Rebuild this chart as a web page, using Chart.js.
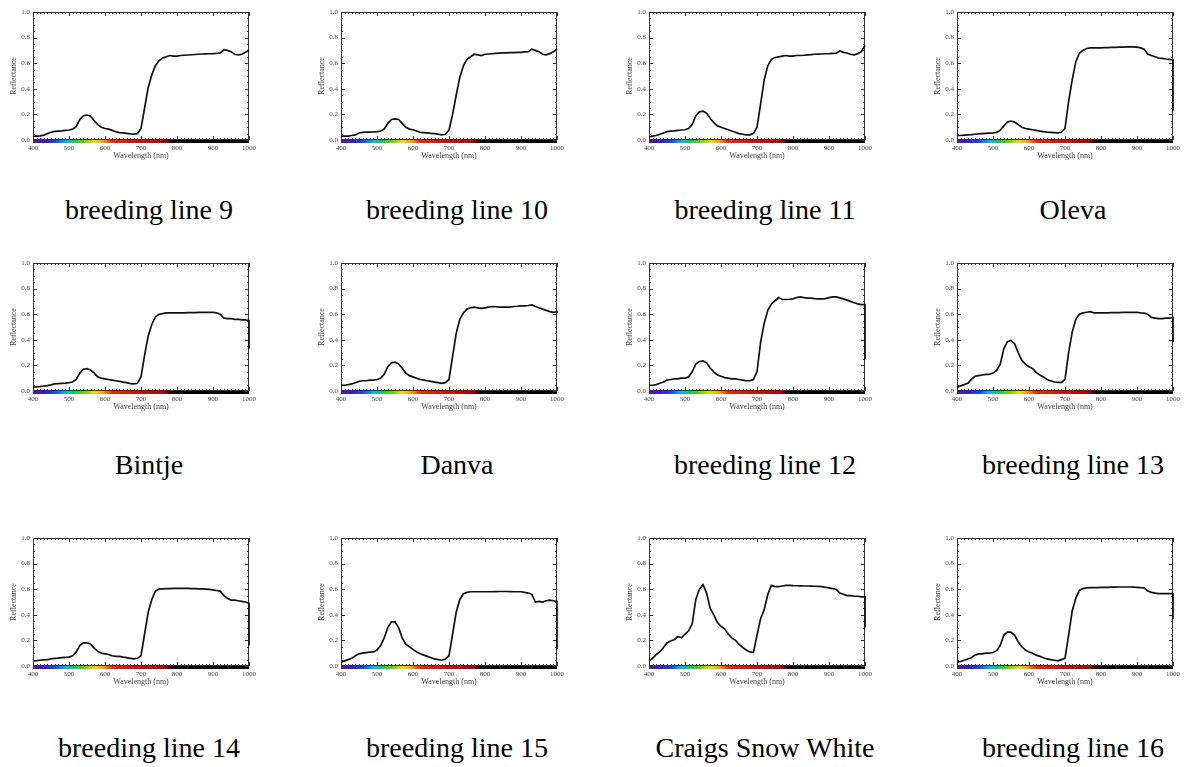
<!DOCTYPE html>
<html>
<head>
<meta charset="utf-8">
<title>Reflectance spectra</title>
<script src="https://cdn.jsdelivr.net/npm/chart.js@4.4.1/dist/chart.umd.min.js"></script>
<style>
    body { margin: 0; background: #fff; width: 1184px; height: 767px; position: relative; overflow: hidden; }
    canvas { position: absolute; }
    .name {
        position: absolute; width: 300px; text-align: center;
        font-family: "Liberation Serif", "Times New Roman", serif;
        font-size: 28px; line-height: 28px; color: #000; white-space: nowrap;
    }
</style>
</head>
<body>
<script>
// wavelength grid (nm); last point repeats 1000 for the drop at the edge
var wavelengths = [];
for (var w = 400; w <= 1000; w += 10) wavelengths.push(w);
wavelengths.push(1000);

var bl9 = [.030,.030,.032,.038,.050,.060,.068,.070,.072,.075,
           .078,.085,.105,.160,.190,.195,.185,.150,.120,.100,
           .090,.085,.075,.065,.058,.055,.052,.048,.046,.050,
           .090,.250,.410,.510,.580,.620,.640,.650,.660,.655,
           .655,.660,.662,.664,.666,.668,.670,.672,.673,.674,
           .675,.677,.680,.705,.700,.690,.670,.665,.670,.685,
           .700,.700];
var bl10 = [.030,.030,.030,.035,.040,.055,.060,.061,.062,.063,
            .065,.070,.085,.130,.160,.165,.160,.130,.100,.085,
            .080,.070,.060,.058,.055,.052,.050,.045,.040,.045,
            .077,.200,.350,.490,.580,.630,.650,.670,.665,.660,
            .670,.672,.674,.676,.678,.680,.681,.682,.683,.684,
            .685,.688,.690,.710,.700,.690,.670,.665,.675,.690,
            .710,.710];
var bl11 = [.025,.030,.035,.045,.055,.065,.070,.072,.075,.078,
            .080,.090,.120,.190,.220,.225,.210,.170,.135,.110,
            .100,.090,.080,.070,.060,.050,.045,.040,.040,.050,
            .100,.280,.470,.580,.630,.645,.650,.655,.660,.655,
            .655,.660,.660,.662,.665,.667,.670,.671,.672,.674,
            .675,.677,.678,.695,.685,.680,.670,.665,.675,.690,
            .740,.740];
var oleva = [.035,.035,.038,.040,.042,.045,.048,.050,.052,.054,
             .055,.060,.075,.110,.140,.148,.140,.120,.100,.090,
             .085,.080,.075,.070,.065,.062,.060,.058,.055,.060,
             .090,.300,.470,.610,.680,.700,.715,.720,.720,.720,
             .720,.721,.722,.723,.724,.725,.726,.727,.728,.728,
             .725,.720,.710,.670,.660,.650,.640,.637,.633,.630,
             .625,.230];
var bintje = [.030,.032,.035,.038,.042,.048,.055,.058,.060,.062,
              .065,.070,.090,.140,.170,.175,.165,.140,.110,.100,
              .095,.090,.085,.080,.075,.070,.065,.058,.055,.060,
              .110,.280,.430,.520,.580,.600,.605,.610,.610,.610,
              .610,.610,.611,.612,.612,.613,.614,.614,.615,.615,
              .615,.610,.600,.570,.565,.565,.560,.560,.555,.555,
              .550,.330];
var danva = [.045,.045,.050,.055,.065,.075,.080,.080,.085,.085,
             .090,.100,.130,.190,.220,.225,.210,.180,.140,.120,
             .110,.100,.090,.085,.080,.075,.070,.065,.060,.065,
             .090,.270,.450,.560,.610,.640,.650,.655,.650,.645,
             .650,.655,.660,.658,.655,.655,.655,.655,.660,.662,
             .665,.665,.668,.672,.660,.650,.640,.630,.620,.615,
             .620,.610];
var bl12 = [.045,.045,.050,.060,.070,.085,.090,.095,.095,.100,
            .100,.110,.150,.210,.230,.235,.220,.180,.150,.125,
            .115,.105,.100,.095,.095,.090,.085,.080,.080,.090,
            .150,.380,.530,.630,.680,.705,.730,.715,.715,.717,
            .720,.730,.735,.730,.725,.725,.722,.720,.720,.722,
            .730,.735,.735,.728,.720,.710,.700,.690,.680,.675,
            .675,.250];
var bl13 = [.030,.040,.050,.060,.090,.115,.120,.125,.130,.130,
            .140,.160,.210,.330,.385,.395,.370,.300,.240,.210,
            .190,.175,.145,.125,.110,.090,.080,.070,.067,.068,
            .090,.300,.460,.560,.600,.610,.615,.620,.610,.610,
            .610,.610,.611,.612,.612,.613,.614,.614,.615,.615,
            .615,.610,.608,.600,.575,.570,.565,.565,.570,.570,
            .575,.380];
var bl14 = [.040,.042,.045,.048,.050,.055,.060,.062,.065,.068,
            .070,.080,.110,.160,.180,.180,.170,.140,.115,.100,
            .095,.090,.080,.075,.075,.070,.065,.060,.055,.060,
            .080,.250,.420,.520,.585,.600,.603,.605,.605,.606,
            .607,.607,.606,.606,.605,.605,.603,.602,.600,.598,
            .595,.590,.585,.550,.530,.515,.515,.510,.505,.500,
            .490,.160];
var bl15 = [.030,.040,.050,.060,.080,.095,.100,.105,.108,.110,
            .125,.160,.220,.300,.345,.345,.300,.220,.170,.150,
            .130,.110,.095,.085,.075,.065,.055,.050,.045,.055,
            .080,.250,.420,.520,.565,.575,.580,.580,.580,.580,
            .580,.580,.580,.581,.582,.582,.582,.581,.580,.580,
            .580,.575,.570,.560,.500,.505,.500,.510,.515,.510,
            .505,.130];
var craigs = [.040,.060,.090,.110,.145,.180,.195,.205,.230,.220,
              .250,.275,.330,.520,.600,.635,.570,.450,.400,.340,
              .310,.290,.250,.220,.200,.170,.145,.125,.110,.105,
              .240,.370,.440,.560,.630,.620,.620,.625,.630,.630,
              .628,.627,.626,.625,.625,.624,.623,.622,.620,.615,
              .610,.605,.600,.570,.560,.550,.550,.545,.545,.540,
              .540,.300];
var bl16 = [.030,.035,.045,.055,.065,.085,.095,.095,.100,.100,
            .105,.120,.160,.240,.265,.265,.240,.190,.150,.125,
            .110,.100,.085,.075,.065,.055,.050,.045,.040,.050,
            .060,.240,.430,.530,.590,.605,.610,.612,.612,.613,
            .614,.615,.615,.616,.616,.617,.617,.617,.617,.616,
            .615,.612,.610,.585,.575,.570,.565,.565,.565,.565,
            .565,.370];

var panelNames = ["breeding line 9", "breeding line 10", "breeding line 11", "Oleva",
                  "Bintje", "Danva", "breeding line 12", "breeding line 13",
                  "breeding line 14", "breeding line 15", "Craigs Snow White", "breeding line 16"];
var panelSeries = [bl9, bl10, bl11, oleva, bintje, danva, bl12, bl13, bl14, bl15, craigs, bl16];

// colour strip under the x axis
var spectrumStops = [[400, "#6a0cb0"], [430, "#3a16d8"], [460, "#1840ff"], [490, "#00b8ff"],
                     [510, "#00d070"], [540, "#60d000"], [570, "#e8e000"], [595, "#ffa000"],
                     [620, "#ff2000"], [700, "#e00000"], [765, "#b00000"], [790, "#000000"],
                     [1000, "#000000"]];

var serif = "'Liberation Serif', 'Times New Roman', serif";
var colLeft = [0, 308, 616, 924];
var rowTop = [0, 251, 526];
var labelY = [210, 465, 748];

//Frame, ticks and colour strip go under the spectrum line
var frameAndBar = {
    id: "frameAndBar",
    beforeDatasetsDraw: function(chart)
    {
        var ctx = chart.ctx, a = chart.chartArea;
        var xs = chart.scales.x, ys = chart.scales.y;
        ctx.save();

        // spectrum strip
        var x0 = xs.getPixelForValue(400), x1 = xs.getPixelForValue(1000);
        var grad = ctx.createLinearGradient(x0, 0, x1, 0);
        spectrumStops.forEach(function(s){
            grad.addColorStop((s[0] - 400) / 600, s[1]);
        });
        ctx.fillStyle = grad;
        ctx.fillRect(x0, a.bottom - 1, x1 - x0, 4);

        // box
        ctx.strokeStyle = "#333";
        ctx.lineWidth = 1;
        ctx.strokeRect(a.left + 0.5, a.top + 0.5, a.right - a.left - 1, a.bottom - a.top - 1);

        // inward tick marks
        ctx.beginPath();
        for (var w = 400; w <= 1000; w += 10) {
            var px = Math.round(xs.getPixelForValue(w)) + 0.5;
            var len = (w % 100 == 0) ? 4 : 2;
            ctx.moveTo(px, a.top); ctx.lineTo(px, a.top + len);
            ctx.moveTo(px, a.bottom); ctx.lineTo(px, a.bottom - len);
        }
        for (var i = 0; i <= 20; i++) {
            var py = Math.round(ys.getPixelForValue(i / 20)) + 0.5;
            var l2 = (i % 4 == 0) ? 4 : 2;
            ctx.moveTo(a.left, py); ctx.lineTo(a.left + l2, py);
            ctx.moveTo(a.right, py); ctx.lineTo(a.right - l2, py);
        }
        ctx.stroke();
        ctx.restore();
    }
};

panelSeries.forEach(function(series, idx)
{
    var col = idx % 4, row = Math.floor(idx / 4);

    var canvas = document.createElement("canvas");
    canvas.width = 260;
    canvas.height = 164;
    canvas.style.left = colLeft[col] + "px";
    canvas.style.top = rowTop[row] + "px";
    document.body.appendChild(canvas);

    var label = document.createElement("div");
    label.className = "name";
    label.textContent = panelNames[idx];
    label.style.left = (colLeft[col] + 149 - 150) + "px";
    label.style.top = (labelY[row] - 14) + "px";
    document.body.appendChild(label);

    var points = wavelengths.map(function(w, i){ return {x: w, y: series[i]}; });

    new Chart(canvas, {
        type: "line",
        data: {
            datasets: [{
                data: points,
                borderColor: "#111",
                borderWidth: 1.7,
                pointRadius: 0,
                tension: 0,
                fill: false,
                clip: 2
            }]
        },
        options: {
            responsive: false,
            animation: false,
            devicePixelRatio: 1,
            layout: { padding: { top: 12, right: 8, left: 0, bottom: 0 } },
            plugins: { legend: { display: false }, tooltip: { enabled: false } },
            scales: {
                x: {
                    type: "linear", min: 400, max: 1000,
                    afterFit: function(s){ s.height = 24; },
                    grid: { display: false, drawTicks: false, tickLength: 0 }, border: { display: false },
                    ticks: { stepSize: 100, padding: 4, color: "#444", maxRotation: 0, autoSkip: false,
                             font: { family: serif, size: 7 },
                             callback: function(v){ return String(v); } },
                    title: { display: true, text: "Wavelength (nm)", color: "#444",
                             font: { family: serif, size: 8 }, padding: { top: 0, bottom: 3 } }
                },
                y: {
                    min: 0, max: 1,
                    afterFit: function(s){ s.width = 33; },
                    grid: { display: false, drawTicks: false, tickLength: 0 }, border: { display: false },
                    ticks: { stepSize: 0.2, padding: 3, color: "#444",
                             font: { family: serif, size: 7 },
                             callback: function(v){ return v.toFixed(1); } },
                    title: { display: true, text: "Reflectance", color: "#444",
                             font: { family: serif, size: 8 }, padding: { top: 9, bottom: 0 } }
                }
            }
        },
        plugins: [frameAndBar]
    });
});
</script>
</body>
</html>
